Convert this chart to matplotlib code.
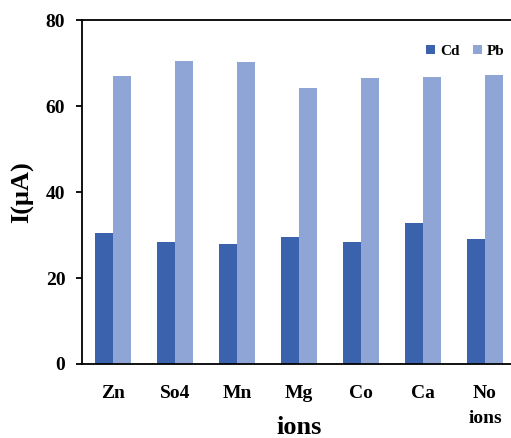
#!/usr/bin/env python3
"""
Peak current of Cd and Pb in presence of interfering ions
"""

import matplotlib
matplotlib.use('Agg')
import matplotlib.pyplot as plt
import numpy as np

# data
ions = ['Zn', 'So4', 'Mn', 'Mg', 'Co', 'Ca', 'No\nions']
cd_current = [30.5, 28.3, 27.9, 29.5, 28.3, 32.8, 29.1]
pb_current = [66.9, 70.6, 70.2, 64.1, 66.5, 66.7, 67.3]
y_ticks = [0, 20, 40, 60, 80]

CD_COLOR = '#3B63AD'
PB_COLOR = '#8FA5D6'

plt.rcParams['font.family'] = ['Liberation Serif', 'DejaVu Serif']
plt.rcParams['font.weight'] = 'bold'

fig = plt.figure(figsize=(5.11, 4.38), dpi=100)
# axes run past the right edge, as in the original
ax = fig.add_axes([0.1605, 0.169, 0.8493, 0.785])

x = np.arange(len(ions))
width = 0.285
ax.bar(x - width / 2, cd_current, width, color=CD_COLOR, label='Cd')
ax.bar(x + width / 2, pb_current, width, color=PB_COLOR, label='Pb')

ax.set_xlim(-0.5, len(ions) - 0.5)
ax.set_ylim(0, 80)
ax.set_yticks(y_ticks)
ax.set_xticks(x)
ax.set_xticklabels(ions, fontsize=14, fontweight='bold', linespacing=1.65)
ax.tick_params(axis='x', length=0, pad=15)
ax.tick_params(axis='y', labelsize=14, length=4, width=1.3, direction='out', pad=8)
for lbl in ax.get_yticklabels():
    lbl.set_fontweight('bold')

for side in ['left', 'bottom', 'top']:
    ax.spines[side].set_linewidth(1.3)
ax.spines['right'].set_visible(False)

ax.set_xlabel('ions', fontsize=19, fontweight='bold')
ax.xaxis.set_label_coords(0.5, -0.151)
ax.set_ylabel('I(μA)', fontsize=19, fontweight='bold', labelpad=8)

ax.legend(loc='upper right', bbox_to_anchor=(0.995, 0.955), ncol=2, frameon=False,
          prop={'size': 11, 'weight': 'bold'}, handlelength=0.6, handleheight=0.6,
          handletextpad=0.3, columnspacing=0.9, borderaxespad=0.2)

plt.savefig('out.png', dpi=100)
plt.close()
